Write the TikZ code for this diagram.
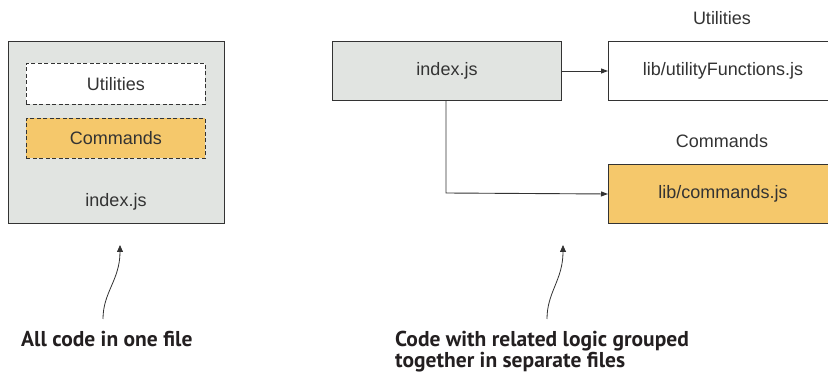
\documentclass[tikz,border=0pt]{standalone}
\usepackage{fontspec}
\setmainfont{Liberation Sans}
\newfontfamily\capfont{PT Sans}
\usetikzlibrary{arrows.meta}
\definecolor{boxgray}{HTML}{E1E4E1}
\definecolor{boxorange}{HTML}{F5C86B}
\definecolor{linegray}{HTML}{333333}
\definecolor{captextcol}{HTML}{231F20}
\tikzset{
  filebox/.style={draw=linegray, line width=1pt, inner sep=0pt, anchor=north west},
  dashbox/.style={draw=linegray, dashed, dash pattern=on 4pt off 2.5pt, line width=0.9pt, inner sep=0pt, anchor=north west},
  lbl/.style={font=\fontsize{18}{21}\selectfont, text=linegray, inner sep=0pt},
  conn/.style={draw=linegray, line width=0.9pt, -{Triangle[length=7pt,width=5pt]}},
  callout/.style={draw=linegray, line width=0.8pt, -{Triangle[length=7pt,width=6pt]}},
  captext/.style={font=\capfont\bfseries\fontsize{21.5}{21}\selectfont, text=captextcol, inner sep=0pt, align=left}
}
\begin{document}
\begin{tikzpicture}[x=1pt,y=-1pt]
\useasboundingbox (0,0) rectangle (828,374);
% left: single file
\node[filebox, fill=boxgray, minimum width=216pt, minimum height=182pt] (single) at (8,41) {};
\node[dashbox, fill=white, minimum width=179pt, minimum height=41pt] (util) at (26,63) {};
\node[lbl] at (util.center) {Utilities};
\node[dashbox, fill=boxorange, minimum width=179pt, minimum height=40pt] (cmds) at (26,118) {};
\node[lbl] at (cmds.center) {Commands};
\node[lbl] (singlelbl) at (116,202) {index.js};
% right: separate files
\node[filebox, fill=boxgray, minimum width=229pt, minimum height=59pt] (index) at (332,41) {};
\node[lbl] at (index.center) {index.js};
\node[filebox, fill=white, minimum width=229pt, minimum height=59pt] (ufile) at (608,41) {};
\node[lbl] at (ufile.center) {lib/utilityFunctions.js};
\node[filebox, fill=boxorange, minimum width=229pt, minimum height=59pt] (cfile) at (608,164) {};
\node[lbl] at (cfile.center) {lib/commands.js};
\node[lbl] (ulabel) at (722,18) {Utilities};
\node[lbl] (clabel) at (722,141) {Commands};
\draw[conn] (index.east) -- (ufile.west);
\coordinate (bend) at (446,193);
\draw[conn] (index.south -| bend) -- (bend) -- (cfile.west);
% callouts
\node[captext, anchor=base west] (capone) at (21,346) {All code in one file};
\node[captext, anchor=north west] (captwo) at (395,330.5) {Code with related logic grouped\\together in separate files};
\coordinate (tipone) at (120,245);
\coordinate (tiptwo) at (563,245);
\draw[callout] (103,319) .. controls (103,292) and (120,280) .. (tipone);
\draw[callout] (547,319) .. controls (547,292) and (563,280) .. (tiptwo);
\end{tikzpicture}
\end{document}
